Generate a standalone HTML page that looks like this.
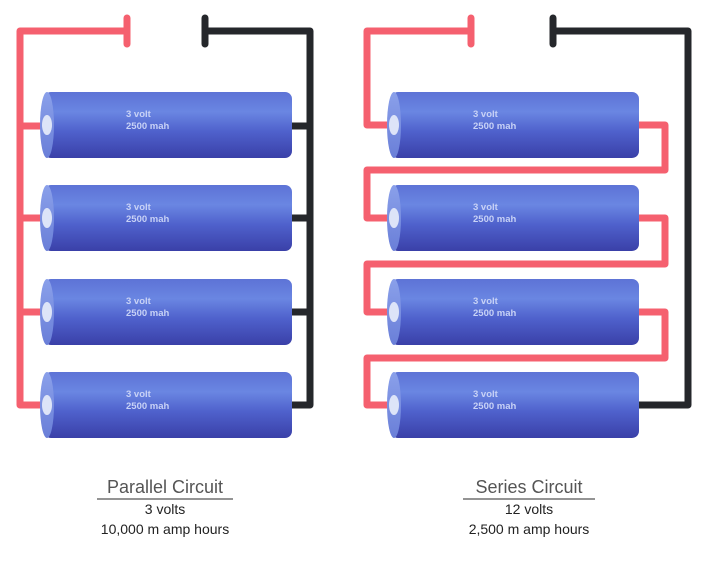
<!DOCTYPE html>
<html><head><meta charset="utf-8"><style>
html,body{margin:0;padding:0;background:#fff;}
svg{display:block;font-family:"Liberation Sans",sans-serif;}
</style></head><body>
<svg width="715" height="562" viewBox="0 0 715 562">
<defs>
<linearGradient id="bg" x1="0" y1="0" x2="0" y2="1">
<stop offset="0" stop-color="#5d73d6"/><stop offset="0.3" stop-color="#6a86e2"/><stop offset="0.6" stop-color="#4f61cc"/><stop offset="1" stop-color="#3a40a8"/>
</linearGradient>
<linearGradient id="cap" x1="0" y1="0" x2="0" y2="1">
<stop offset="0" stop-color="#8aa0ea"/><stop offset="1" stop-color="#6a7fd8"/>
</linearGradient>
</defs>
<g fill="none" stroke-linecap="round" stroke-linejoin="round" stroke-width="7">
<!-- parallel wires -->
<path stroke="#f5606f" d="M127 18V44M127 31H20V405M20 126H40M20 218H40M20 312H40M20 405H40"/>
<path stroke="#25272b" d="M205 18V44M205 31H310V405M292 126H310M292 218H310M292 312H310M292 405H310"/>
<!-- series wires -->
<path stroke="#f5606f" d="M471 18V44M471 31H367V125H387M637 125H665V170H367V218H387M637 218H665V264H367V312H387M637 312H665V358H367V405H387"/>
<path stroke="#25272b" d="M553 18V44M553 31H688V405H637"/>
</g>
<g id="batts"></g>
<g fill="#555" text-anchor="middle">
<text x="165" y="493" font-size="18">Parallel Circuit</text>
<line x1="97" y1="499" x2="233" y2="499" stroke="#555" stroke-width="1.2"/>
<text x="165" y="514" font-size="14" fill="#222">3 volts</text>
<text x="165" y="534" font-size="14" fill="#222">10,000 m amp hours</text>
<text x="529" y="493" font-size="18">Series Circuit</text>
<line x1="463" y1="499" x2="595" y2="499" stroke="#555" stroke-width="1.2"/>
<text x="529" y="514" font-size="14" fill="#222">12 volts</text>
<text x="529" y="534" font-size="14" fill="#222">2,500 m amp hours</text>
</g>
</svg>
<script>
const tops=[92,185,279,372];
const lefts=[40,387];
const g=document.getElementById('batts');
const NS='http://www.w3.org/2000/svg';
lefts.forEach((x0,ci)=>{tops.forEach((y,i)=>{
 const b=document.createElementNS(NS,'g');
 
 
 const w=252,h=66;
 b.innerHTML=`<rect x="${x0+4}" y="${y}" width="${w-4}" height="${h}" rx="7" fill="url(#bg)"/>
 <ellipse cx="${x0+7}" cy="${y+h/2}" rx="7" ry="${h/2}" fill="url(#cap)"/>
 <ellipse cx="${x0+7}" cy="${y+h/2}" rx="5" ry="10" fill="#dde4f8"/>
 <text x="${x0+86}" y="${y+25}" font-size="9.5" font-weight="bold" fill="#c8d2f6">3 volt</text>
 <text x="${x0+86}" y="${y+37}" font-size="9.5" font-weight="bold" fill="#c8d2f6">2500 mah</text>`;
 g.appendChild(b);
});});
</script>
</body></html>
